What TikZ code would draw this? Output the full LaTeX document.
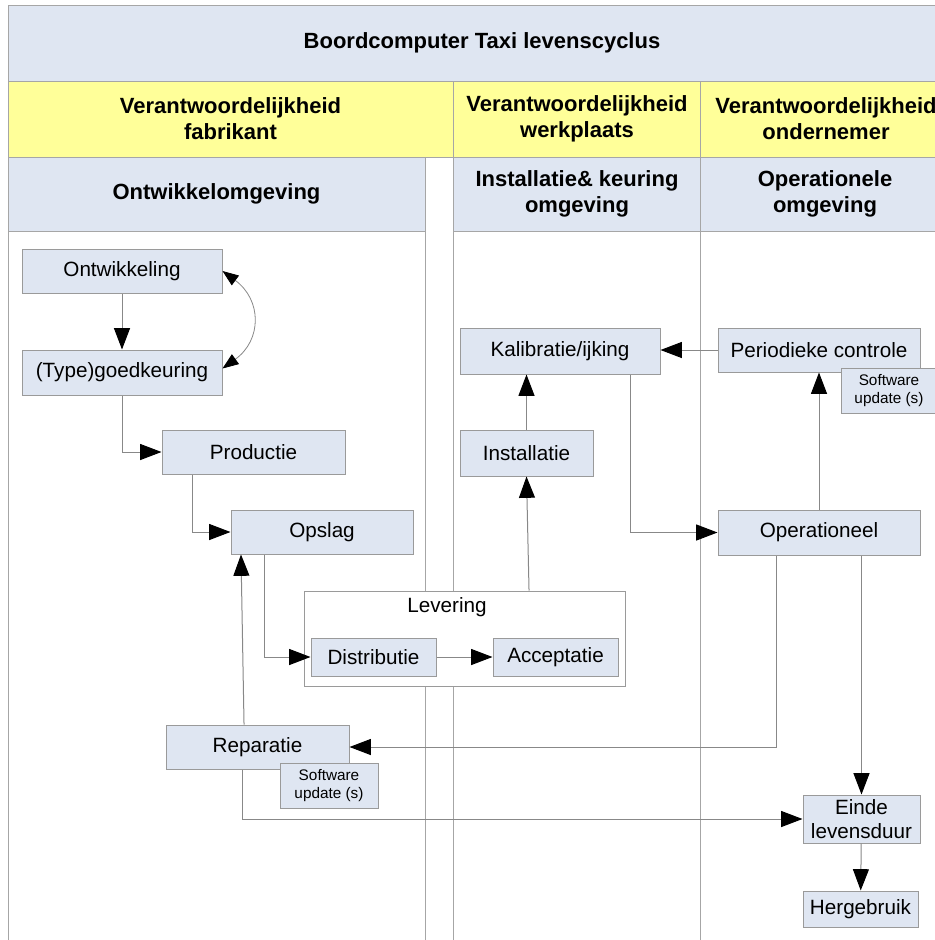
\documentclass[tikz,border=0pt]{standalone}
\usepackage{fontspec}
\setmainfont{Liberation Sans}
\usetikzlibrary{arrows.meta}
\definecolor{panel}{HTML}{DFE6F2}
\definecolor{band}{HTML}{FFFF99}
\definecolor{rule}{HTML}{A6A6A6}
\definecolor{edge}{HTML}{9A9A9A}
\definecolor{wire}{HTML}{888888}
\begin{document}
\begin{tikzpicture}[x=0.75pt,y=-0.75pt,
  cell/.style={fill=panel,draw=rule,line width=0.75pt},
  bandcell/.style={fill=band,draw=rule,line width=0.75pt},
  lane/.style={draw=rule,line width=0.75pt},
  head/.style={font=\bfseries\fontsize{16.5}{19.5}\selectfont,align=center,inner sep=0pt},
  box/.style={draw=edge,fill=panel,line width=0.75pt,font=\fontsize{15.5}{18}\selectfont,align=center,inner sep=0pt},
  note/.style={box,font=\fontsize{11.5}{13.5}\selectfont},
  conn/.style={draw=wire,line width=0.75pt,-{Triangle[length=16pt,width=12pt,color=black]}},
  loopconn/.style={draw=wire,line width=0.6pt,{Triangle[length=12pt,width=9pt,color=black]}-{Triangle[length=12pt,width=9pt,color=black]}},
]
\clip (0,0) rectangle (935,940);
\fill[white] (0,0) rectangle (935,940);

% title bar and responsibility band
\path[cell] (8,5) rectangle (960,81);
\node[head] (title) at (482,43) {Boordcomputer Taxi levenscyclus};
\path[bandcell] (8,81) rectangle (960,157);

% environment headers
\path[cell] (8,157) rectangle (425,231);
\path[cell] (453,157) rectangle (700,231);
\path[cell] (700,157) rectangle (960,231);

% swimlane borders
\draw[lane] (8,231) -- (8,940);
\draw[lane] (425,157) -- (425,940);
\draw[lane] (453,81) -- (453,940);
\draw[lane] (700,81) -- (700,940);

\node[head] (hfab) at (230.5,119) {Verantwoordelijkheid\\fabrikant};
\node[head] (hwerk) at (577,119) {Verantwoordelijkheid\\werkplaats};
\node[head] (hond) at (826,119) {Verantwoordelijkheid\\ondernemer};
\node[head] (eontw) at (216.5,194) {Ontwikkelomgeving};
\node[head] (einst) at (577,194) {Installatie\& keuring\\omgeving};
\node[head] (eoper) at (825,194) {Operationele\\omgeving};

% process steps
\node[box,minimum width=150pt,minimum height=33pt] (ontw) at (122,271) {Ontwikkeling};
\node[box,minimum width=150pt,minimum height=33.75pt] (goed) at (122,372.5) {(Type)goedkeuring};
\node[box,minimum width=137.25pt,minimum height=33pt] (prod) at (253.5,452) {Productie};
\node[box,minimum width=136.5pt,minimum height=33pt] (opslag) at (322,532) {Opslag};
\node[draw=edge,fill=white,line width=0.75pt,minimum width=240.75pt,minimum height=71.25pt,inner sep=0pt] (lev) at (464.5,638.5) {};
\node[font=\fontsize{15.5}{18}\selectfont,inner sep=0pt] (levlabel) at (447,607) {Levering};
\node[box,minimum width=93.75pt,minimum height=28.5pt] (distr) at (373.5,657) {Distributie};
\node[box,minimum width=93.75pt,minimum height=28.5pt] (accept) at (555.5,657) {Acceptatie};
\node[box,minimum width=137.25pt,minimum height=33pt] (rep) at (257.5,747) {Reparatie};
\node[note,minimum width=73.5pt,minimum height=33.75pt] (swrep) at (329,785.5) {Software\\update (s)};
\node[box,minimum width=99.75pt,minimum height=34.5pt] (inst) at (526.5,453) {Installatie};
\node[box,minimum width=150pt,minimum height=34.5pt] (kal) at (560,351) {Kalibratie/ijking};
\node[box,minimum width=151.5pt,minimum height=33pt] (per) at (819,350) {Periodieke controle};
\node[note,minimum width=72pt,minimum height=33.75pt] (swper) at (889,390.5) {Software\\update (s)};
\node[box,minimum width=151.5pt,minimum height=33.75pt] (oper) at (819,532.5) {Operationeel};
\node[box,minimum width=87.75pt,minimum height=36pt] (einde) at (861.5,819) {Einde\\levensduur};
\node[box,minimum width=86.25pt,minimum height=27pt] (herg) at (860.5,909) {Hergebruik};

% flow connectors
\draw[conn] (ontw) -- (goed);
\draw[loopconn] (ontw.east) .. controls (262,300) and (262,340) .. ([yshift=3pt]goed.east);
\draw[conn] (goed.south) |- (prod.west);
\draw[conn] ([xshift=-45.4pt]prod.south) |- (opslag.west);
\draw[conn] ([xshift=-43.5pt]opslag.south) |- (distr.west);
\draw[conn] (distr) -- (accept);
\draw[conn] ([xshift=48.4pt]lev.north) -- (inst.south);
\draw[conn] (inst.north) -- (inst.north |- kal.south);
\draw[conn] (per.west) -- (per.west -| kal.east);
\draw[conn] ([xshift=52.5pt]kal.south) |- (oper.west);
\draw[conn] (oper.north) -- (per.south);
\draw[conn] ([xshift=-32.25pt]oper.south) |- (rep.east);
\draw[conn] (einde.north |- oper.south) -- (einde.north);
\draw[conn] ([xshift=-11.6pt]rep.south) |- (einde.west);
\draw[conn] ([xshift=-10.1pt]rep.north) -- ([xshift=-60.75pt]opslag.south);
\draw[conn] (einde) -- (herg);
\end{tikzpicture}
\end{document}
